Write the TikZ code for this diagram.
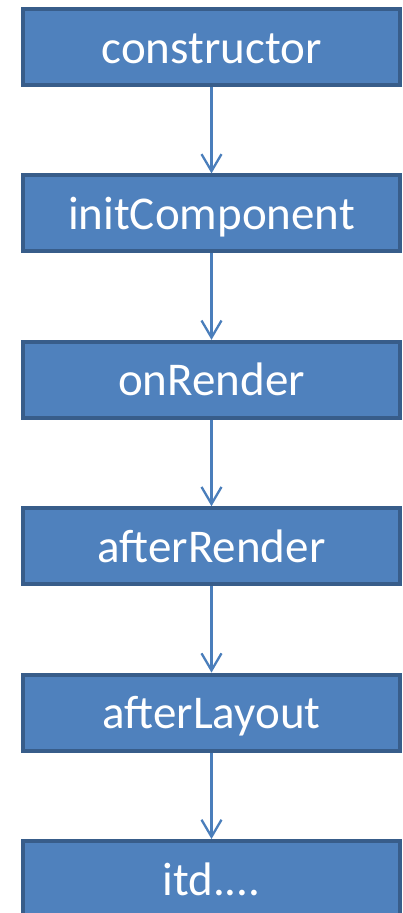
\documentclass[tikz,border=0pt]{standalone}
\usepackage{fontspec}
\setmainfont{Carlito}
\usetikzlibrary{arrows.meta}
\definecolor{boxfill}{HTML}{4F81BD}
\definecolor{boxline}{HTML}{385D8A}
\definecolor{flowblue}{HTML}{4A7EBB}

\begin{document}
\begin{tikzpicture}[x=1pt, y=-1pt,
    stage/.style={draw=boxline, fill=boxfill, line width=4pt,
      minimum width=377pt, minimum height=76pt, inner sep=0pt,
      text=white, text height=36pt, text depth=4pt,
      font=\fontsize{47}{56}\selectfont},
    flow/.style={draw=flowblue, line width=2.3pt,
      -{Straight Barb[length=17pt, width=20pt]}}]

      \useasboundingbox (0,0) rectangle (402,913);

      \def\cx{211.5}
      \def\gap{166.4}

      \foreach \name/\txt [count=\i from 0] in {ctor/constructor, init/initComponent,
          render/onRender, after/afterRender, layout/afterLayout, itd/{itd....}}{
        \node[stage] (\name) at (\cx, {47+\gap*\i}) {\txt};
      }

      \foreach \from/\to in {ctor/init, init/render, render/after, after/layout, layout/itd}{
        \draw[flow] (\from) -- (\to);
      }

    \end{tikzpicture}
\end{document}
